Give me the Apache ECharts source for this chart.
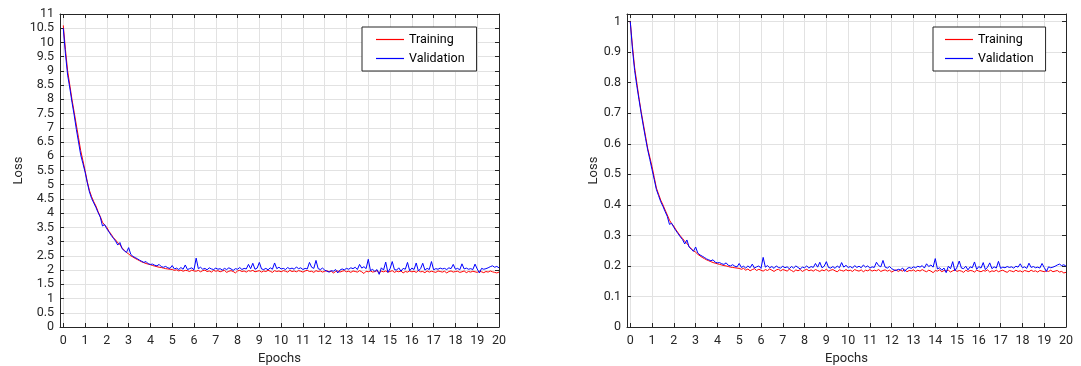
<!DOCTYPE html>
<html><head><meta charset="utf-8">
<script src="https://cdn.jsdelivr.net/npm/echarts@6/dist/echarts.min.js"></script>
<style>html,body{margin:0;padding:0;background:#fff}#c{width:1081px;height:366px}</style>
</head><body><div id="c"></div>
<script>
const epochTicks = [0,1,2,3,4,5,6,7,8,9,10,11,12,13,14,15,16,17,18,19,20];
const rightYTicks = [0,0.1,0.2,0.3,0.4,0.5,0.6,0.7,0.8,0.9,1];
const seriesNames = ['Training','Validation'];
const seriesColors = ['#ff0000','#0000ff'];

const trainLeft = [10.6, 9.75, 9.0, 8.5, 8.0, 7.55, 7.1, 6.65, 6.2, 5.85, 5.5,
 5.12, 4.8, 4.58, 4.4, 4.25, 4.05, 3.88, 3.68, 3.58, 3.5,
 3.36, 3.26, 3.14, 3.06, 2.96, 2.9, 2.78, 2.7, 2.62, 2.57,
 2.5, 2.46, 2.41, 2.37, 2.33, 2.29, 2.26, 2.23, 2.21, 2.19,
 2.16, 2.14, 2.12, 2.1, 2.09, 2.07, 2.05, 2.04, 2.03, 2.02,
 1.99, 2.01, 1.97, 2.0, 1.96, 1.99, 1.98, 1.95, 2.0, 1.97,
 1.96, 1.99, 1.94, 1.98, 2.0, 1.95, 1.97, 1.93, 1.99, 1.96,
 1.98, 1.94, 1.97, 1.99, 1.92, 1.96, 1.98, 1.95, 1.9, 1.97,
 1.99, 1.95, 1.97, 1.93, 1.98, 1.96, 1.99, 1.94, 1.96, 1.98,
 1.93, 1.97, 1.95, 1.99, 1.96, 1.92, 1.98, 1.95, 1.97, 1.94,
 1.98, 1.96, 1.93, 1.99, 1.95, 1.97, 1.94, 1.98, 1.96, 1.93,
 1.97, 1.99, 1.95, 1.96, 1.92, 1.98, 1.95, 1.97, 1.93, 1.96,
 1.98, 1.94, 1.96, 1.9, 1.95, 1.97, 1.93, 1.96, 1.98, 1.94,
 1.96, 1.92, 1.97, 1.95, 1.93, 1.98, 1.94, 1.88, 1.96, 1.94,
 1.97, 1.93, 1.95, 1.98, 1.91, 1.96, 1.94, 1.97, 1.93, 1.95,
 1.98, 1.92, 1.96, 1.94, 1.97, 1.9, 1.95, 1.93, 1.97, 1.94,
 1.96, 1.92, 1.98, 1.94, 1.95, 1.91, 1.97, 1.93, 1.96, 1.94,
 1.92, 1.97, 1.95, 1.93, 1.96, 1.9, 1.95, 1.97, 1.93, 1.95,
 1.96, 1.92, 1.94, 1.97, 1.91, 1.95, 1.93, 1.96, 1.94, 1.92,
 1.96, 1.94, 1.91, 1.95, 1.93, 1.97, 1.94, 1.92, 1.9, 1.93];

const valLeft = [10.5, 9.6, 8.85, 8.4, 7.9, 7.45, 6.95, 6.5, 6.05, 5.75, 5.45,
 5.08, 4.75, 4.52, 4.36, 4.2, 4.02, 3.86, 3.55, 3.6, 3.45,
 3.34, 3.22, 3.12, 3.02, 2.88, 2.97, 2.75, 2.68, 2.62, 2.79,
 2.55, 2.48, 2.44, 2.4, 2.35, 2.31, 2.27, 2.3, 2.22, 2.2,
 2.21, 2.17, 2.15, 2.2, 2.12, 2.1, 2.13, 2.08, 2.06, 2.16,
 2.04, 2.07, 2.02, 2.09, 2.03, 2.18, 2.02, 2.05, 2.08, 2.01,
 2.42, 2.05, 2.1, 2.03, 2.06, 2.01, 2.08, 2.04, 2.02, 2.07,
 2.03, 2.05, 2.0, 2.06, 2.02, 2.08, 2.04, 1.99, 2.05, 2.03,
 2.09, 2.02, 2.06, 2.04, 2.2, 2.05, 2.24, 2.03, 2.07, 2.27,
 2.04, 2.02, 2.06, 2.01, 2.08, 2.03, 2.25, 2.05, 2.1, 2.04,
 2.06, 2.02, 2.09, 2.04, 2.07, 2.03, 2.11, 2.05, 2.08, 2.02,
 2.06, 2.04, 2.27, 2.1, 2.06, 2.34, 2.05, 2.02, 2.07, 2.0,
 1.96, 1.93, 1.98, 1.96, 2.02, 1.9, 2.0, 2.04, 2.01, 2.06,
 2.03, 2.08, 2.05, 2.1, 2.02, 2.2, 2.07, 2.12, 2.05, 2.38,
 1.98, 2.03, 1.95, 2.02, 1.85, 2.08, 2.0, 2.28, 1.92, 2.05,
 2.3, 2.02, 2.0, 2.08, 1.96, 2.06, 2.03, 2.27, 1.98, 2.07,
 2.02, 2.25, 1.97, 2.05, 2.24, 2.0, 2.06, 2.02, 2.3, 2.01,
 2.05, 2.03, 2.07, 2.04, 2.06, 2.02, 2.08, 2.05, 2.2, 2.03,
 2.06, 2.01, 2.22, 2.04, 2.07, 2.03, 2.05, 2.02, 2.21, 2.04,
 1.9, 2.06, 2.03, 2.05, 2.08, 2.12, 2.15, 2.1, 2.13, 2.08];

const trainRight = [1.0, 0.92, 0.85, 0.8, 0.75, 0.705, 0.665, 0.625, 0.585, 0.555, 0.525,
 0.49, 0.455, 0.435, 0.415, 0.4, 0.383, 0.367, 0.35, 0.338, 0.33,
 0.318, 0.308, 0.298, 0.29, 0.28, 0.274, 0.264, 0.256, 0.25, 0.245,
 0.238, 0.233, 0.228, 0.224, 0.22, 0.217, 0.214, 0.211, 0.209, 0.207,
 0.205, 0.203, 0.201, 0.2, 0.198, 0.196, 0.195, 0.194, 0.193, 0.192,
 0.189, 0.192, 0.186, 0.19, 0.184, 0.188, 0.191, 0.185, 0.189, 0.186,
 0.183, 0.188, 0.185, 0.19, 0.186, 0.182, 0.187, 0.189, 0.184, 0.188,
 0.186, 0.183, 0.189, 0.185, 0.181, 0.187, 0.184, 0.188, 0.182, 0.186,
 0.189, 0.184, 0.187, 0.183, 0.188, 0.185, 0.182, 0.187, 0.184, 0.189,
 0.183, 0.186, 0.188, 0.184, 0.181, 0.187, 0.185, 0.183, 0.188, 0.184,
 0.186, 0.182, 0.188, 0.185, 0.183, 0.187, 0.181, 0.186, 0.184, 0.188,
 0.183, 0.186, 0.184, 0.188, 0.182, 0.185, 0.187, 0.183, 0.186, 0.18,
 0.184, 0.187, 0.182, 0.186, 0.183, 0.188, 0.181, 0.185, 0.184, 0.187,
 0.182, 0.186, 0.183, 0.188, 0.184, 0.181, 0.186, 0.183, 0.178, 0.185,
 0.183, 0.187, 0.181, 0.185, 0.183, 0.186, 0.18, 0.184, 0.187, 0.182,
 0.185, 0.183, 0.179, 0.186, 0.182, 0.185, 0.184, 0.18, 0.186, 0.183,
 0.181, 0.185, 0.183, 0.187, 0.18, 0.184, 0.182, 0.186, 0.181, 0.184,
 0.186, 0.182, 0.179, 0.185, 0.183, 0.181, 0.186, 0.182, 0.184, 0.18,
 0.185, 0.183, 0.181, 0.186, 0.182, 0.184, 0.18, 0.185, 0.183, 0.181,
 0.184, 0.182, 0.186, 0.181, 0.183, 0.185, 0.18, 0.182, 0.177, 0.179];

const valRight = [1.0, 0.91, 0.84, 0.79, 0.745, 0.7, 0.658, 0.618, 0.58, 0.548, 0.515,
 0.483, 0.45, 0.43, 0.41, 0.395, 0.378, 0.362, 0.336, 0.34, 0.326,
 0.315, 0.305, 0.295, 0.286, 0.272, 0.285, 0.262, 0.255, 0.248, 0.262,
 0.242, 0.236, 0.232, 0.228, 0.223, 0.22, 0.217, 0.22, 0.212, 0.21,
 0.211, 0.207, 0.205, 0.21, 0.202, 0.2, 0.204, 0.199, 0.197, 0.208,
 0.195, 0.199, 0.193, 0.2, 0.194, 0.206, 0.193, 0.197, 0.2, 0.192,
 0.228, 0.196, 0.201, 0.194, 0.198, 0.192, 0.2, 0.195, 0.193, 0.199,
 0.194, 0.197, 0.191, 0.198, 0.193, 0.2, 0.195, 0.19, 0.196, 0.194,
 0.2, 0.193, 0.198, 0.195, 0.208, 0.196, 0.212, 0.194, 0.199, 0.214,
 0.195, 0.193, 0.198, 0.192, 0.2, 0.194, 0.211, 0.196, 0.202, 0.195,
 0.198, 0.193, 0.201, 0.195, 0.199, 0.194, 0.203, 0.196, 0.2, 0.193,
 0.197, 0.195, 0.212, 0.201, 0.197, 0.218, 0.196, 0.193, 0.198, 0.191,
 0.187, 0.185, 0.189, 0.187, 0.193, 0.182, 0.191, 0.195, 0.192, 0.197,
 0.194, 0.199, 0.196, 0.201, 0.193, 0.207, 0.198, 0.203, 0.196, 0.224,
 0.19, 0.194, 0.186, 0.193, 0.178, 0.199, 0.191, 0.214, 0.184, 0.196,
 0.216, 0.193, 0.191, 0.199, 0.187, 0.197, 0.194, 0.213, 0.189, 0.198,
 0.193, 0.211, 0.188, 0.196, 0.21, 0.191, 0.197, 0.193, 0.215, 0.192,
 0.196, 0.194, 0.198, 0.195, 0.197, 0.193, 0.199, 0.196, 0.207, 0.194,
 0.197, 0.192, 0.209, 0.195, 0.198, 0.194, 0.196, 0.193, 0.208, 0.195,
 0.182, 0.197, 0.194, 0.196, 0.199, 0.203, 0.206, 0.201, 0.204, 0.199];

const epochs = trainLeft.map((_, i) => i / 10);
const pairs = ys => ys.map((y, i) => [epochs[i], y]);

const FONT = 'Roboto';
const AX = '#262626';
const GRIDC = '#e2e2e2';

function xAx(g, pos, main) {
  return {
    type: 'value', gridIndex: g, position: pos, min: -0.15, max: 20,
    axisLine: { show: true, onZero: false, lineStyle: { color: AX, width: 1 } },
    axisTick: { show: true, inside: true, length: 4, customValues: epochTicks, lineStyle: { color: AX } },
    axisLabel: { show: main, customValues: epochTicks, margin: 7, color: AX, fontFamily: FONT, fontSize: 12.5 },
    splitLine: { show: main, lineStyle: { color: GRIDC, width: 1 } },
    name: main ? 'Epochs' : '', nameLocation: 'middle', nameGap: 24,
    nameTextStyle: { color: AX, fontFamily: FONT, fontSize: 13 }
  };
}
function yAx(g, pos, main, cfg, gap) {
  return Object.assign({
    type: 'value', gridIndex: g, position: pos, min: 0,
    axisLine: { show: true, onZero: false, lineStyle: { color: AX, width: 1 } },
    axisTick: { show: true, inside: true, length: 4, lineStyle: { color: AX } },
    axisLabel: { show: main, margin: 6, color: AX, fontFamily: FONT, fontSize: 12.5 },
    splitLine: { show: main, lineStyle: { color: GRIDC, width: 1 } },
    name: main ? 'Loss' : '', nameLocation: 'middle', nameGap: gap, nameRotate: 90,
    nameTextStyle: { color: AX, fontFamily: FONT, fontSize: 13 }
  }, cfg);
}

const option = {
  animation: false,
  backgroundColor: '#fff',
  grid: [
    { left: 60, top: 14, width: 439, height: 313, outerBoundsMode: 'none', containLabel: false },
    { left: 627, top: 14, width: 439, height: 313, outerBoundsMode: 'none', containLabel: false }
  ],
  xAxis: [xAx(0, 'bottom', true), xAx(0, 'top', false), xAx(1, 'bottom', true), xAx(1, 'top', false)],
  yAxis: [
    yAx(0, 'left', true, { max: 11, interval: 0.5 }, 34),
    yAx(0, 'right', false, { max: 11, interval: 0.5 }, 0),
    yAx(1, 'left', true, { max: 1.025 }, 26),
    yAx(1, 'right', false, { max: 1.025 }, 0)
  ],
  legend: [0, 1].map(g => ({
    left: g === 0 ? 362 : 933, top: 27, orient: 'vertical',
    data: seriesNames.map((n, i) => ({
      name: n, icon: 'rect',
      itemStyle: { color: seriesColors[i], borderWidth: 0, opacity: 1 }
    })),
    borderColor: AX, borderWidth: 1, backgroundColor: '#fff',
    padding: [5, 12, 5, g === 0 ? 14 : 12], itemWidth: 28, itemHeight: 1.2, itemGap: 4,
    selectedMode: false,
    textStyle: { color: '#000', fontFamily: FONT, fontSize: 12.5, lineHeight: 15 }
  })),
  series: [
    { name: 'Training', data: pairs(trainLeft), color: seriesColors[0], x: 0, y: 0 },
    { name: 'Validation', data: pairs(valLeft), color: seriesColors[1], x: 0, y: 0 },
    { name: 'Training', data: pairs(trainRight), color: seriesColors[0], x: 2, y: 2 },
    { name: 'Validation', data: pairs(valRight), color: seriesColors[1], x: 2, y: 2 }
  ].map(s => ({
    type: 'line', name: s.name, data: s.data, xAxisIndex: s.x, yAxisIndex: s.y,
    symbol: 'none', showSymbol: false, color: s.color,
    itemStyle: { color: s.color },
    lineStyle: { color: s.color, width: 1 }
  }))
};
option.yAxis[2].axisTick.customValues = rightYTicks;
option.yAxis[2].axisLabel.customValues = rightYTicks;
option.yAxis[3].axisTick.customValues = rightYTicks;

const chart = echarts.init(document.getElementById('c'), null, { renderer: 'canvas' });
chart.setOption(option);
</script></body></html>
